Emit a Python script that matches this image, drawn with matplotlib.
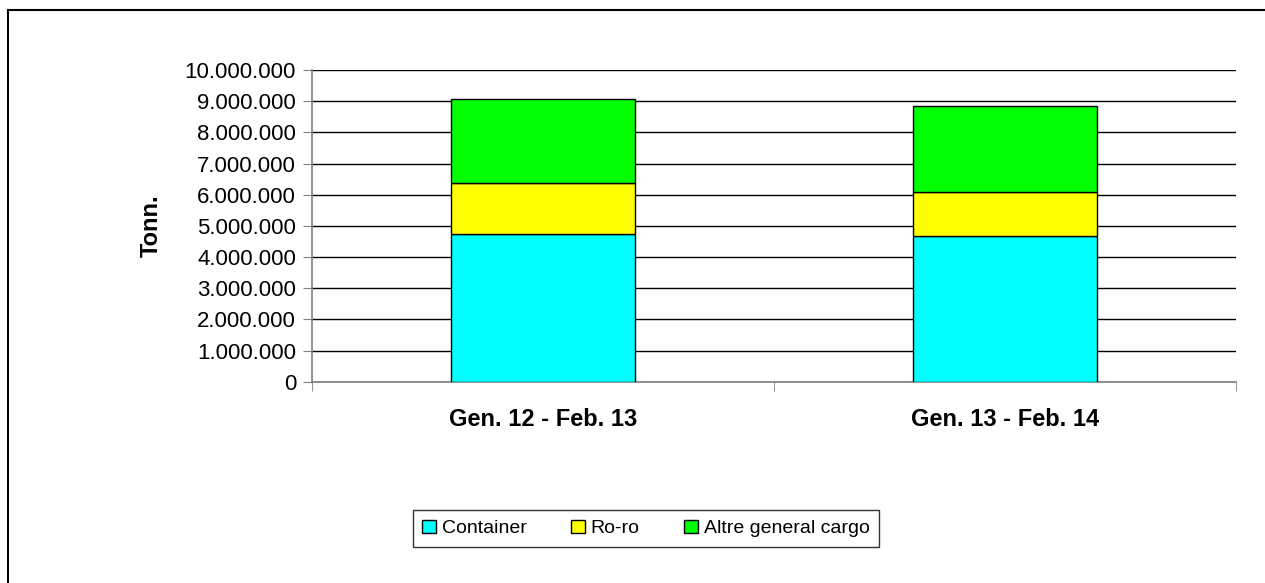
import matplotlib.pyplot as plt
import numpy as np
from matplotlib.lines import Line2D
from matplotlib.ticker import FuncFormatter, FixedLocator

plt.rcParams['font.family'] = ['Liberation Sans', 'DejaVu Sans']

# Data
periods = ['Gen. 12 - Feb. 13', 'Gen. 13 - Feb. 14']
container = [4740000, 4690000]
roro = [1630000, 1390000]
altre = [2690000, 2770000]
seriesNames = ['Container', 'Ro-ro', 'Altre general cargo']
seriesColors = ['#00FFFF', '#FFFF00', '#00FF00']

W, H = 1265, 583
fig = plt.figure(figsize=(W / 100, H / 100), dpi=100)
ax = fig.add_axes([312 / W, 1 - 381.7 / H, (1236 - 312) / W, (381.7 - 70) / H])

x = np.arange(len(periods))
bottom = np.zeros(len(periods))
for vals, name, col in zip([container, roro, altre], seriesNames, seriesColors):
    ax.bar(x, vals, width=0.4, bottom=bottom, color=col, edgecolor='black',
           linewidth=1, label=name, zorder=3)
    bottom += np.array(vals)

ax.set_xlim(-0.5, 1.5)
ax.set_ylim(0, 10000000)
ax.set_yticks(np.arange(0, 10000001, 1000000))
ax.yaxis.set_major_formatter(FuncFormatter(lambda v, p: f'{int(v):,}'.replace(',', '.')))
ax.grid(axis='y', color='black', linewidth=1, zorder=0)

ax.set_xticks(x)
ax.set_xticklabels(periods, fontsize=17, fontweight='bold')
ax.tick_params(axis='x', length=0, pad=19)
ax.xaxis.set_minor_locator(FixedLocator([-0.5, 0.5, 1.5]))
ax.tick_params(axis='x', which='minor', length=6.5, color='#808080')
ax.tick_params(axis='y', labelsize=16, length=6.5, color='#808080', pad=5)

for s in ['top', 'right']:
    ax.spines[s].set_visible(False)
for s in ['left', 'bottom']:
    ax.spines[s].set_color('#808080')
    ax.spines[s].set_linewidth(1.2)

ax.set_ylabel('Tonn.', fontsize=17, fontweight='bold', labelpad=16)

handles, labels = ax.get_legend_handles_labels()
leg = fig.legend(handles, labels, loc='center', bbox_to_anchor=(646 / W, 1 - 528.5 / H),
                 ncol=3, fontsize=14, frameon=True, fancybox=False, edgecolor='black',
                 handlelength=0.7, handleheight=0.7, handletextpad=0.3, columnspacing=2.3,
                 borderpad=0.5)
leg.get_frame().set_linewidth(1)

# Outer border (only left and top edges visible in the crop)
fig.add_artist(Line2D([8 / W, 8 / W], [0, 1 - 10 / H], transform=fig.transFigure,
                      color='black', linewidth=1.5))
fig.add_artist(Line2D([8 / W, 1], [1 - 10 / H, 1 - 10 / H], transform=fig.transFigure,
                      color='black', linewidth=1.5))

fig.savefig('out.png', dpi=100)
